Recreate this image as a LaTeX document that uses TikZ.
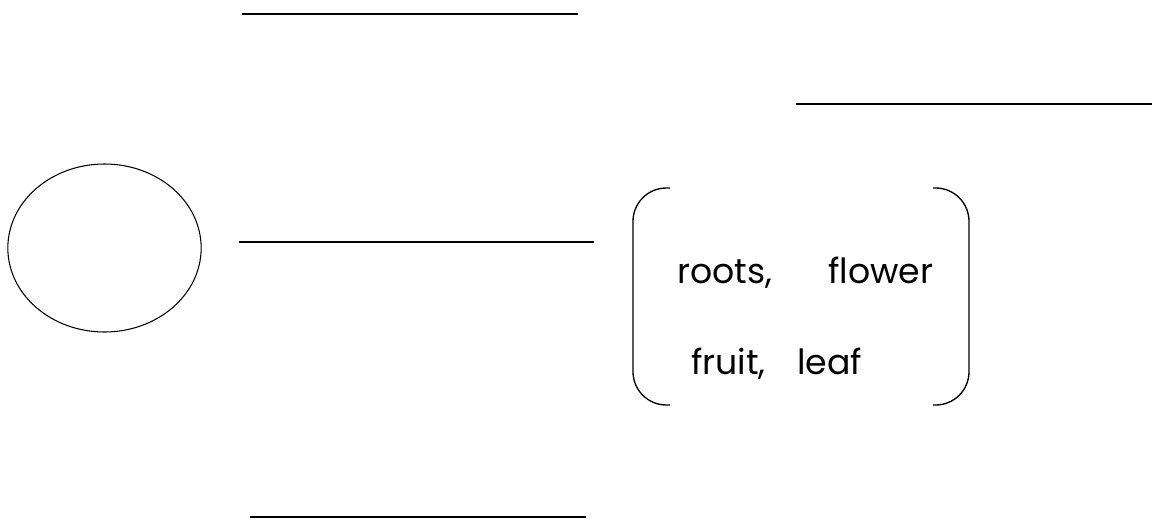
\documentclass[tikz,border=0pt]{standalone}
\usepackage{fontspec}
\setmainfont{Poppins}
\usetikzlibrary{positioning,shapes.geometric}
\tikzset{
  blankline/.style={line width=1pt,color=black},
  word/.style={anchor=base west,inner sep=0pt,font=\fontsize{26}{30}\selectfont},
  brack/.style={line width=1pt,rounded corners=25pt},
}
\begin{document}
\begin{tikzpicture}[x=0.75pt,y=-0.75pt]
  \useasboundingbox (0,0) rectangle (1155,521);
  % circle at left
  \node[draw,line width=0.8pt,ellipse,minimum width=145pt,minimum height=126pt,inner sep=0pt] (circ) at (104.5,248) {};
  % answer lines
  \draw[blankline] (242,14) -- (578,14);
  \draw[blankline] (796,104) -- (1152,104);
  \draw[blankline] (239,242) -- (594,242);
  \draw[blankline] (250,517) -- (586,517);
  % word box
  \node[word] (roots) at (677,283) {roots,};
  \node[word] (flower) at (828,283) {flower};
  \node[word] (fruit) at (691,374) {fruit,};
  \node[word] (leaf) at (797,374) {leaf};
  \draw[brack] (670,188) -- (633,188) -- (633,405) -- (670,405);
  \draw[brack] (933,188) -- (969,188) -- (969,405) -- (933,405);
\end{tikzpicture}
\end{document}
